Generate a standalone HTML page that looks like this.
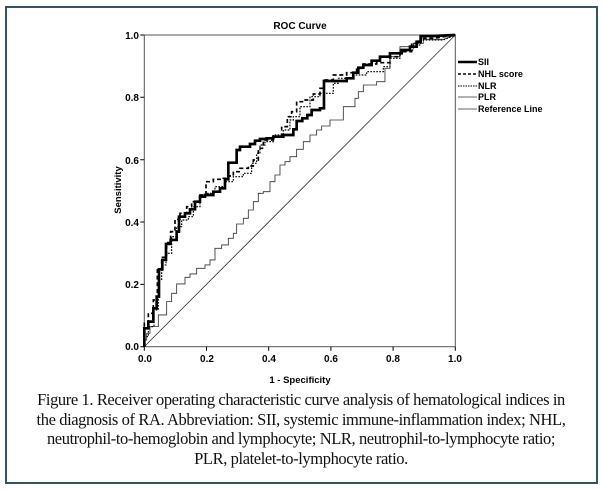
<!DOCTYPE html>
<html><head><meta charset="utf-8"><style>
html,body{margin:0;padding:0;background:#fff;width:602px;height:490px;overflow:hidden}
.frame{position:absolute;left:5px;top:6px;width:589px;height:474px;border:2px solid #2f5473;box-sizing:content-box}
.cap{position:absolute;left:0px;width:602px;top:390px;text-align:center;font-family:"Liberation Serif",serif;font-size:16.5px;line-height:19.5px;color:#111;letter-spacing:-0.4px;white-space:nowrap}
svg{position:absolute;left:0;top:0}
</style></head><body>
<div class="frame"></div>
<svg width="602" height="490" font-family="Liberation Sans, sans-serif" font-weight="bold">
<text x="300" y="29" font-size="10" text-anchor="middle">ROC Curve</text>
<text transform="translate(121,190) rotate(-90)" font-size="9.5" text-anchor="middle">Sensitivity</text>
<text x="300" y="383" font-size="9.5" text-anchor="middle">1 - Specificity</text>
<g font-size="10" text-anchor="end">
<text x="139" y="39">1.0</text><text x="139" y="101">0.8</text><text x="139" y="164">0.6</text><text x="139" y="226">0.4</text><text x="139" y="288">0.2</text><text x="139" y="350">0.0</text>
</g>
<g font-size="10" text-anchor="middle">
<text x="145" y="362">0.0</text><text x="207" y="362">0.2</text><text x="269" y="362">0.4</text><text x="331" y="362">0.6</text><text x="393" y="362">0.8</text><text x="455" y="362">1.0</text>
</g>
<g font-size="9">
<text x="478" y="65">SII</text><text x="478" y="77">NHL score</text><text x="478" y="89">NLR</text><text x="478" y="100">PLR</text><text x="478" y="112">Reference Line</text>
</g>
<g stroke="#000" fill="none">
<line x1="458" y1="62" x2="477" y2="62" stroke-width="2.5"/>
<line x1="458" y1="74" x2="477" y2="74" stroke-width="1.6" stroke-dasharray="3,2"/>
<line x1="458" y1="86" x2="477" y2="86" stroke-width="1" stroke-dasharray="1.5,1"/>
<line x1="458" y1="97" x2="477" y2="97" stroke-width="0.8" stroke="#333"/>
<line x1="458" y1="109" x2="477" y2="109" stroke-width="0.8" stroke="#333"/>
<rect x="144.3" y="35" width="311" height="311.7" stroke="#555" stroke-width="1"/>
<path d="M144.3 35h-4M144.3 97.3h-4M144.3 159.7h-4M144.3 222h-4M144.3 284.4h-4M144.3 346.7h-4M144.3 346.7v4M206.5 346.7v4M268.7 346.7v4M330.9 346.7v4M393.1 346.7v4M455.3 346.7v4" stroke-width="1"/>
</g>
<g transform="translate(100,20) scale(0.3333)" fill="none" stroke="#000">
<path stroke="#333" stroke-width="2.5" d="M133 980L1066 45"/>
<path stroke="#333" stroke-width="2.5" d="M133 980V960H140V940H150V920H175V885H200V845H215V820H230V792H255V772H270V762H290V745H315V735H330V720H345V685H365V675H385V655H400V640H410V612H430V595H445V570H460V545H475V520H490V515H510V485H525V465H540V435H555V425H570V410H590V388H610V365H630V345H650V330H665V318H690V300H730V260H765V235H775V215H790V195H830V185H855V145H870V110H900V80H940V70H970V58H1030L1066 45"/>
<path stroke-width="3.5" stroke-dasharray="5,4" d="M133 980V950H145V920H162V870H175V780H185V735H198V700H215V650H230V620H245V600H265V590H280V560H300V530H320V520H345V500H375V485H400V470H430V460H455V430H470V400H480V375H495V365H520V345H550V330H570V300H580V290H600V260H630V230H660V220H700V190H715V175H760V165H800V155H850V140H870V115H900V90H940V75H962V60H1030L1066 45"/>
<path stroke-width="5" stroke-dasharray="12,8" d="M133 980V910H145V880H160V840H172V750H185V712H200V668H212V635H225V598H240V580H260V560H275V545H300V525H318V485H340V478H370V475H380V468H400V455H420V445H445V438H460V420H475V385H490V360H520V350H545V320H562V290H575V275H590V245H610V240H640V222H660V205H672V180H700V165H740V158H770V145H790V132H830V128H870V110H900V95H935V70H962V55H1000L1066 45"/>
<path stroke-width="8" d="M133 980V925H145V905H160V865H170V830H177V748H187V720H198V672H212V660H230V635H237V590H255V580H270V568H285V545H300V530H315V525H340V515H360V505H375V478H385V428H410V390H420V380H450V372H465V362H480V357H500V355H520V350H550V345H580V328H590V303H607V295H622V285H635V270H660V265H672V183H740V175H760V158H775V143H790V135H815V122H840V110H870V100H905V90H930V80H950V65H962V48H1000L1066 45"/>
</g>
</svg>
<div class="cap">Figure 1. Receiver operating characteristic curve analysis of hematological indices in<br>the diagnosis of RA. Abbreviation: SII, systemic immune-inflammation index; NHL,<br>neutrophil-to-hemoglobin and lymphocyte; NLR, neutrophil-to-lymphocyte ratio;<br>PLR, platelet-to-lymphocyte ratio.</div>
</body></html>
